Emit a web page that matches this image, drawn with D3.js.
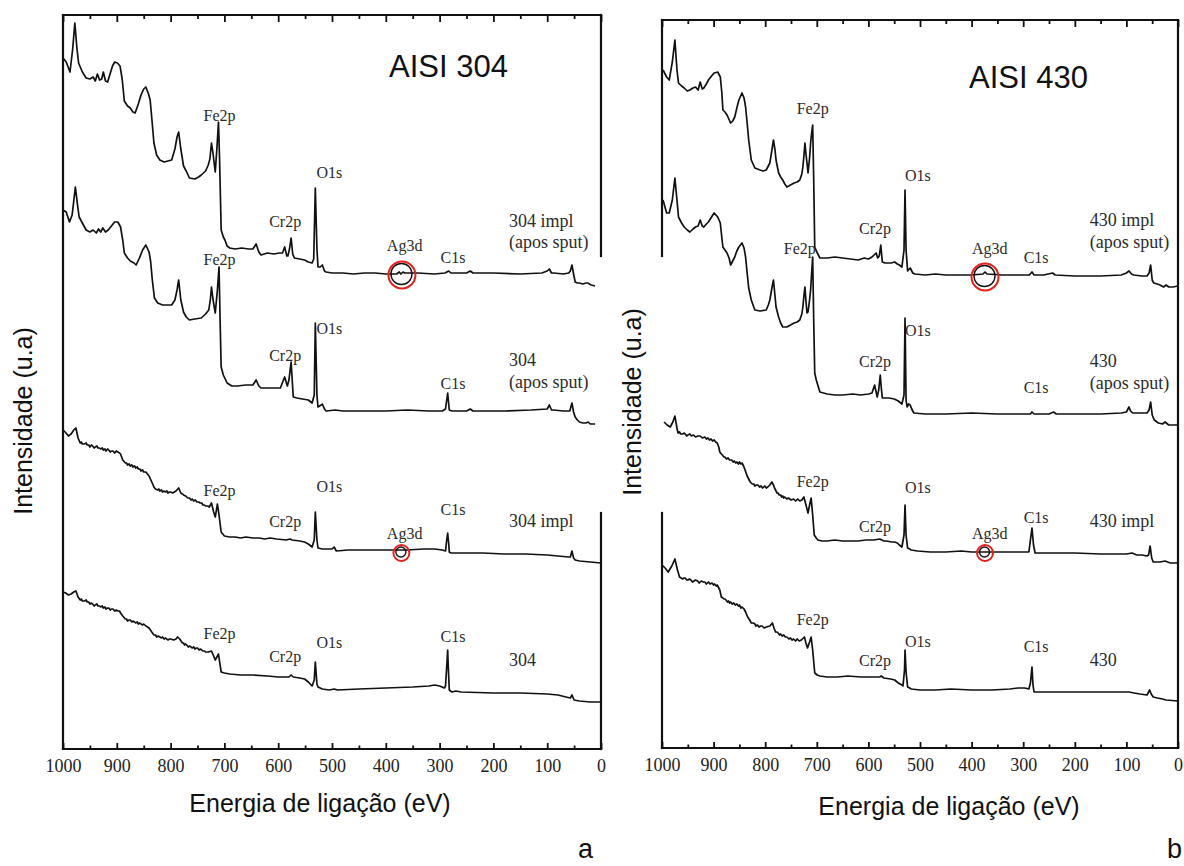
<!DOCTYPE html>
<html>
<head>
<meta charset="utf-8">
<script src="https://cdn.jsdelivr.net/npm/d3@7"></script>
<style>
  body { margin: 0; background: #fff; }
  .peak { font-family: 'Liberation Serif', serif; font-size: 16px; fill: #2b2b2b; }
  .serie { font-family: 'Liberation Serif', serif; font-size: 18px; fill: #2b2b2b; }
  .big { font-family: 'Liberation Sans', Arial, sans-serif; fill: #111; }
</style>
</head>
<body>
<script>
// energy axis ticks (eV)
const majorTicks = [1000, 900, 800, 700, 600, 500, 400, 300, 200, 100, 0];
const minorTicks = [950, 850, 750, 650, 550, 450, 350, 250, 150, 50];

// spectra, [binding energy eV, intensity a.u.] -- AISI 304
const s304ImplSput = [[1000,691],[994,687],[987,677],[982,700],[978,726],[974,700],[971,686],[964,677],[957,671],[950,670],[944,672],[940,668],[936,675],[932,669],[928,670],[925,677],[921,668],[917,667],[912,676],[908,683],[904,687],[899,686],[894,683],[890,670],[886,648],[880,643],[875,641],[870,637],[866,636],[860,645],[855,654],[850,660],[846,662],[841,655],[838,649],[834,625],[831,606],[826,594],[820,589],[812,587],[805,588],[798,589],[792,600],[788,612],[785,617],[781,600],[776,583],[771,578],[765,571],[755,570],[748,572],[743,574],[735,578],[730,584],[727,590],[724,606],[721,595],[717,577],[714,600],[711,627],[709,590],[706,519],[702,512],[699,509],[695,503],[690,501],[680,500],[668,501],[655,500],[647,500],[641,505],[636,497],[632,494],[620,496],[608,495],[598,496],[592,496],[588,502],[584,493],[582,493],[579,500],[576,511],[573,495],[570,491],[560,490],[551,489],[544,487],[537,486],[534,490],[531,561],[528,500],[526,482],[522,482],[518,484],[514,478],[511,477],[500,476],[480,476],[460,475],[440,476],[420,476],[400,475],[380,475],[375,477],[372,475],[368,477],[365,476],[340,476],[310,475],[290,476],[283,478],[279,476],[250,476],[243,478],[238,476],[200,476],[150,475],[110,476],[100,478],[96,480],[92,476],[88,476],[70,475],[60,476],[57,478],[54,484],[51,475],[48,467],[44,466],[40,466],[34,465],[28,466],[24,466],[22,465],[18,464],[11,463]];
const s304Sput = [[1000,539],[994,537],[988,527],[983,534],[977,562],[973,544],[970,532],[964,526],[957,519],[950,517],[944,519],[938,516],[934,520],[930,517],[926,521],[921,517],[916,519],[910,523],[904,527],[898,527],[893,522],[889,509],[886,496],[880,491],[875,488],[868,486],[864,484],[858,491],[852,499],[846,504],[840,497],[837,487],[834,469],[830,451],[824,446],[815,444],[805,444],[798,444],[792,449],[788,459],[785,469],[781,449],[776,437],[771,432],[765,429],[755,430],[743,431],[735,435],[729,439],[726,450],[724,462],[721,449],[717,436],[713,459],[710,482],[708,429],[706,382],[702,374],[695,366],[686,363],[676,363],[660,364],[647,364],[641,369],[636,363],[632,361],[615,361],[596,361],[588,372],[583,363],[580,369],[576,387],[572,352],[565,351],[555,350],[544,349],[537,346],[533,354],[531,426],[528,354],[526,342],[520,344],[518,345],[514,340],[511,338],[494,339],[480,338],[440,338],[400,338],[360,339],[320,338],[295,338],[289,340],[285,356],[282,339],[277,338],[250,338],[243,340],[238,338],[180,338],[130,339],[100,340],[96,344],[92,339],[88,339],[70,338],[58,338],[54,346],[51,337],[48,332],[44,329],[40,327],[34,326],[28,326],[24,327],[20,325],[11,325]];
const s304Impl = [[1000,319],[996,317],[990,313],[985,315],[980,319],[976,321],[972,311],[968,306],[966,307],[964,305],[960,305],[957,306],[955,304],[952,304],[950,302],[947,304],[945,303],[942,301],[940,302],[937,303],[935,301],[932,301],[930,300],[927,301],[925,299],[922,300],[920,298],[917,300],[915,299],[912,297],[910,298],[907,298],[904,296],[901,298],[898,297],[895,296],[893,295],[889,289],[884,286],[882,286],[880,284],[877,285],[875,283],[872,284],[870,282],[867,283],[865,281],[862,282],[860,280],[857,280],[855,278],[852,279],[850,277],[846,277],[843,275],[840,273],[835,267],[831,262],[828,260],[824,259],[822,260],[820,258],[817,259],[815,257],[812,258],[810,257],[807,258],[805,256],[802,257],[800,257],[796,256],[790,258],[785,261],[781,256],[778,255],[776,254],[772,253],[770,252],[768,251],[765,251],[762,249],[760,250],[757,248],[754,249],[751,247],[748,247],[745,246],[742,246],[740,244],[737,244],[735,243],[731,243],[728,242],[724,246],[720,237],[717,232],[713,245],[710,234],[706,217],[700,213],[690,212],[680,212],[670,211],[660,212],[647,211],[635,211],[625,210],[615,211],[603,210],[585,209],[578,210],[574,209],[560,208],[551,207],[544,205],[537,202],[533,209],[531,237],[528,209],[526,201],[518,200],[512,200],[500,200],[496,202],[492,198],[470,199],[440,199],[400,199],[372,199],[360,199],[330,200],[309,200],[295,199],[289,198],[287,208],[285,216],[283,205],[282,197],[279,196],[260,196],[220,196],[180,195],[140,195],[100,194],[80,193],[60,192],[57,192],[54,198],[51,191],[48,189],[40,188],[20,187],[0,186]];
const s304 = [[1000,157],[995,156],[990,154],[985,155],[980,157],[976,158],[972,152],[968,149],[966,150],[964,148],[960,148],[957,149],[955,147],[952,147],[950,145],[947,146],[945,145],[942,143],[940,144],[937,145],[935,143],[932,143],[930,142],[927,143],[925,141],[922,142],[920,140],[917,141],[915,141],[912,139],[910,140],[907,140],[904,138],[901,139],[898,138],[895,138],[893,136],[889,133],[884,130],[882,130],[880,128],[877,129],[875,129],[872,127],[870,128],[867,127],[865,126],[862,127],[860,125],[857,126],[855,125],[852,124],[850,125],[846,123],[843,122],[840,121],[835,117],[831,114],[828,114],[826,112],[823,113],[820,112],[817,111],[815,112],[812,110],[810,111],[807,110],[805,109],[802,110],[800,110],[794,109],[790,110],[787,112],[783,110],[778,106],[776,106],[774,104],[772,105],[770,104],[767,102],[765,103],[762,102],[760,101],[757,102],[755,100],[752,101],[750,101],[747,99],[745,100],[742,99],[740,98],[737,98],[735,97],[730,97],[724,98],[720,93],[717,89],[713,93],[711,95],[708,84],[706,77],[700,76],[690,75],[670,74],[647,74],[620,73],[600,72],[580,72],[576,74],[572,72],[560,71],[551,70],[544,67],[537,63],[533,69],[531,87],[528,65],[526,62],[518,60],[505,59],[496,60],[490,59],[450,60],[400,61],[350,62],[320,63],[309,64],[300,63],[291,61],[289,63],[286,89],[285,99],[284,84],[282,59],[277,57],[270,58],[260,57],[200,56],[150,56],[100,55],[80,54],[65,52],[57,51],[54,54],[50,49],[40,48],[20,47],[0,47]];

// AISI 430
const s430ImplSput = [[998,678],[991,671],[986,668],[980,686],[975,708],[971,678],[968,665],[962,662],[957,660],[951,657],[946,658],[940,660],[935,661],[930,658],[926,666],[922,659],[919,660],[914,664],[910,668],[904,672],[899,675],[892,676],[887,671],[884,655],[882,638],[878,636],[874,633],[867,625],[863,627],[859,631],[855,640],[851,648],[845,655],[841,650],[838,641],[835,625],[832,608],[827,588],[820,580],[810,578],[804,577],[798,578],[794,582],[791,585],[787,598],[784,608],[781,598],[779,588],[774,575],[770,571],[766,568],[762,564],[758,561],[751,563],[744,565],[738,566],[733,568],[729,574],[727,581],[725,592],[723,605],[721,594],[719,585],[717,575],[714,590],[712,605],[710,615],[708,623],[706,568],[704,501],[700,496],[694,490],[680,490],[665,491],[650,490],[635,489],[620,488],[608,490],[600,489],[593,491],[589,493],[585,495],[582,490],[579,492],[576,503],[573,486],[568,485],[556,485],[549,486],[544,484],[540,483],[535,481],[531,498],[529,558],[527,498],[524,477],[521,479],[519,480],[514,475],[510,474],[490,473],[470,474],[450,473],[430,473],[400,473],[378,474],[374,476],[370,474],[340,473],[310,473],[288,473],[283,476],[279,473],[260,473],[243,475],[238,473],[200,472],[150,472],[110,473],[100,475],[95,477],[90,474],[86,473],[70,472],[60,472],[56,475],[53,483],[50,468],[47,465],[40,464],[35,463],[28,461],[23,463],[18,461],[10,461],[0,462]];
const s430Sput = [[998,548],[991,535],[986,535],[980,548],[975,570],[971,548],[968,531],[962,525],[957,521],[951,518],[946,516],[940,519],[935,521],[930,522],[926,528],[922,522],[919,521],[914,524],[910,526],[904,531],[899,535],[892,531],[887,525],[884,510],[882,501],[878,498],[874,495],[870,490],[867,483],[863,487],[859,491],[855,497],[851,501],[845,505],[841,500],[838,491],[835,475],[832,460],[827,448],[820,438],[810,437],[798,438],[794,443],[791,448],[787,460],[784,468],[781,452],[779,441],[774,431],[770,425],[766,421],[758,421],[751,423],[744,425],[738,426],[733,428],[729,434],[727,441],[725,452],[723,461],[721,447],[719,435],[717,436],[714,448],[712,458],[710,475],[708,491],[706,428],[704,375],[701,368],[694,356],[680,354],[665,353],[650,353],[630,354],[615,353],[600,354],[593,355],[588,363],[585,356],[583,351],[580,358],[577,373],[575,360],[573,350],[560,350],[550,349],[542,347],[535,344],[531,353],[529,430],[527,348],[525,341],[522,344],[519,343],[516,339],[512,335],[490,334],[450,334],[400,335],[350,334],[300,334],[286,334],[283,336],[279,334],[250,334],[241,336],[236,334],[200,334],[150,334],[110,335],[100,336],[95,341],[92,337],[88,335],[70,335],[60,335],[56,338],[53,346],[50,333],[46,328],[38,325],[30,324],[25,326],[18,323],[0,323]];
const s430Impl = [[996,326],[990,323],[984,321],[979,326],[975,332],[971,320],[969,315],[966,316],[964,314],[960,314],[957,315],[955,314],[952,312],[950,313],[946,314],[943,312],[939,313],[935,311],[930,312],[926,312],[922,310],[917,311],[914,309],[911,310],[908,308],[905,309],[902,307],[899,308],[896,306],[893,305],[890,301],[888,296],[885,294],[883,293],[880,291],[878,291],[875,289],[872,290],[869,288],[865,288],[862,286],[860,287],[857,285],[855,286],[852,284],[850,286],[847,284],[845,285],[842,282],[839,278],[835,272],[829,266],[825,264],[822,264],[820,262],[817,263],[814,263],[811,261],[808,262],[805,260],[801,262],[798,260],[795,261],[791,263],[787,266],[784,263],[782,260],[777,255],[775,255],[773,253],[770,253],[768,251],[766,252],[764,250],[762,251],[758,249],[755,250],[750,248],[745,249],[741,247],[737,249],[733,247],[729,248],[725,251],[721,243],[717,235],[714,243],[711,250],[708,233],[705,213],[701,210],[698,208],[690,207],[680,207],[665,208],[650,207],[635,207],[620,207],[605,208],[590,208],[578,209],[570,207],[565,207],[555,206],[549,206],[544,205],[540,203],[535,201],[531,213],[529,243],[527,213],[524,200],[520,199],[517,198],[505,197],[480,196],[450,196],[420,197],[400,196],[380,196],[350,196],[320,196],[300,196],[289,196],[286,208],[283,220],[280,203],[277,195],[250,195],[200,195],[150,194],[100,194],[89,195],[80,193],[70,193],[60,192],[57,193],[54,202],[51,190],[48,186],[40,186],[35,186],[25,187],[15,185],[0,185]];
const s430 = [[1000,183],[994,180],[988,176],[981,182],[975,189],[970,178],[966,171],[963,170],[960,169],[957,170],[955,170],[952,168],[950,168],[947,169],[944,168],[941,166],[938,167],[935,168],[931,167],[928,165],[924,167],[920,166],[917,166],[914,164],[910,166],[907,164],[903,165],[900,163],[898,164],[895,162],[893,163],[890,160],[888,158],[885,151],[882,150],[880,149],[878,149],[876,148],[873,146],[871,147],[869,145],[867,146],[864,144],[861,145],[858,143],[855,144],[852,142],[850,143],[847,140],[845,141],[841,139],[838,136],[834,131],[830,128],[827,125],[823,125],[820,124],[818,122],[815,123],[812,121],[809,122],[806,122],[802,120],[798,121],[791,122],[786,125],[783,120],[780,116],[777,116],[775,115],[772,113],[770,114],[767,112],[764,113],[761,111],[758,111],[754,109],[751,110],[748,108],[745,109],[741,107],[738,109],[734,107],[730,108],[724,111],[721,105],[718,100],[714,106],[711,111],[708,98],[704,75],[699,73],[694,72],[680,71],[660,71],[640,72],[614,71],[595,71],[578,71],[575,72],[570,70],[557,69],[549,68],[542,65],[535,63],[533,62],[530,78],[529,98],[527,76],[524,61],[520,60],[517,59],[500,58],[470,58],[440,59],[400,58],[360,58],[326,59],[310,60],[297,60],[289,59],[286,65],[283,81],[281,63],[279,56],[250,56],[200,56],[150,56],[95,56],[85,55],[74,54],[60,53],[55,58],[52,54],[48,51],[40,50],[30,49],[23,48],[0,47]];

// peak annotations [text, eV, intensity]
const peaks304 = [['Fe2p',709,628],['Cr2p',587,522],['O1s',505,571],['Ag3d',365,498],['C1s',275,486],
  ['Fe2p',709,484],['Cr2p',587,388],['O1s',505,415],['C1s',275,360],
  ['Fe2p',709,253],['Cr2p',587,222],['O1s',505,257],['Ag3d',365,210],['C1s',275,234],
  ['Fe2p',709,110],['Cr2p',587,87],['O1s',505,101],['C1s',275,107]];
const names304 = [['304 impl',171,522],['(apos sput)',171,501],['304',171,383],['(apos sput)',171,361],['304 impl',171,222],['304',171,83]];
const peaks430 = [['Fe2p',708,634],['Cr2p',587,514],['O1s',504,567],['Ag3d',365,494],['C1s',275,485],
  ['Fe2p',733,494],['Cr2p',587,381],['O1s',504,412],['C1s',275,355],
  ['Fe2p',708,261],['Cr2p',587,216],['O1s',504,255],['Ag3d',365,209],['C1s',275,225],
  ['Fe2p',708,123],['Cr2p',587,82],['O1s',504,101],['C1s',275,96]];
const names430 = [['430 impl',171,522],['(apos sput)',171,500],['430',171,381],['(apos sput)',171,359],['430 impl',171,221],['430',171,82]];
// Ag3d marks [eV, intensity]
const ag304 = [[370,474],[371,196]];
const ag430 = [[374,471],[374,195]];

const W = 1184, H = 866;
const svg = d3.select('body').append('svg').attr('width', W).attr('height', H);

const panels = [
  {x0: 63, x1: 601, y0: 15, y1: 749, yMax: 734, series: [s304ImplSput, s304Sput, s304Impl, s304],
   peaks: peaks304, names: names304, ag: ag304, title: ['AISI 304', 394, 672],
   leftGap: null, rightGap: [256, 513], ylab: [23, 421], xlab: [320, 812], letter: ['a', 578]},
  {x0: 662, x1: 1178, y0: 20, y1: 748, yMax: 728, series: [s430ImplSput, s430Sput, s430Impl, s430],
   peaks: peaks430, names: names430, ag: ag430, title: ['AISI 430', 405, 660],
   leftGap: [256, 513], rightGap: null, ylab: [632, 402], xlab: [949, 815], letter: ['b', 1167]}
];
const agR = [13.5, 8];

panels.forEach(p => {
  const x = d3.scaleLinear().domain([1000, 0]).range([p.x0, p.x1]);
  const y = d3.scaleLinear().domain([0, p.yMax]).range([p.y1, p.y0]);
  const g = svg.append('g');

  // axes: ticks point inward
  const bot = g.append('g').attr('transform', `translate(0,${p.y1})`)
    .call(d3.axisBottom(x).tickValues(majorTicks).tickSize(-6).tickPadding(10).tickFormat(d3.format('d')))
    .attr('font-family', "'Liberation Serif', 'Times New Roman', serif").attr('font-size', 18);
  bot.selectAll('.tick text').attr('fill', '#222');
  const botMinor = g.append('g').attr('transform', `translate(0,${p.y1})`)
    .call(d3.axisBottom(x).tickValues(minorTicks).tickSize(-3.5).tickFormat(''));
  const top = g.append('g').attr('transform', `translate(0,${p.y0})`)
    .call(d3.axisTop(x).tickValues(majorTicks).tickSize(-7).tickFormat(''));
  const topMinor = g.append('g').attr('transform', `translate(0,${p.y0})`)
    .call(d3.axisTop(x).tickValues(minorTicks).tickSize(-4).tickFormat(''));
  [bot, botMinor, top, topMinor].forEach(a => {
    a.select('.domain').remove();
    a.selectAll('.tick line').attr('stroke', '#111').attr('stroke-width', 1.8);
  });

  // frame (the side borders are broken where the pasted spectra covered them)
  const seg = gap => gap ? [[p.y0, gap[0]], [gap[1], p.y1]] : [[p.y0, p.y1]];
  const lines = [[p.x0, p.y0, p.x1, p.y0], [p.x0, p.y1, p.x1, p.y1]];
  seg(p.leftGap).forEach(s => lines.push([p.x0, s[0], p.x0, s[1]]));
  seg(p.rightGap).forEach(s => lines.push([p.x1, s[0], p.x1, s[1]]));
  g.selectAll('line.frame').data(lines).enter().append('line')
    .attr('x1', d => d[0]).attr('y1', d => d[1]).attr('x2', d => d[2]).attr('y2', d => d[3])
    .attr('stroke', '#111').attr('stroke-width', 2.2).attr('stroke-linecap', 'square');

  const line = d3.line().x(d => x(d[0])).y(d => y(d[1]));
  g.selectAll('path.spec').data(p.series).enter().append('path')
    .attr('d', line).attr('fill', 'none').attr('stroke', '#111')
    .attr('stroke-width', 1.7).attr('stroke-linejoin', 'round');

  g.selectAll('text.peak').data(p.peaks).enter().append('text').attr('class', 'peak')
    .attr('x', d => x(d[1])).attr('y', d => y(d[2])).attr('text-anchor', 'middle').text(d => d[0]);
  g.selectAll('text.serie').data(p.names).enter().append('text').attr('class', 'serie')
    .attr('x', d => x(d[1])).attr('y', d => y(d[2])).text(d => d[0]);

  // Ag3d circles
  p.ag.forEach((d, i) => {
    g.append('circle').attr('cx', x(d[0]) - 0.5).attr('cy', y(d[1]) - 1).attr('r', agR[i] - 3)
      .attr('fill', 'none').attr('stroke', '#111').attr('stroke-width', 1.4);
    g.append('circle').attr('cx', x(d[0])).attr('cy', y(d[1])).attr('r', agR[i])
      .attr('fill', 'none').attr('stroke', '#e3211c').attr('stroke-width', 2);
  });

  g.append('text').attr('class', 'big').attr('x', x(p.title[1])).attr('y', y(p.title[2]))
    .style('font-size', '31px').text(p.title[0]);

  g.append('text').attr('class', 'big').attr('text-anchor', 'middle')
    .attr('transform', `translate(${p.ylab[0]},${p.ylab[1]}) rotate(-90)`).attr('dy', '0.35em')
    .style('font-size', '25px').text('Intensidade (u.a)');
  g.append('text').attr('class', 'big').attr('text-anchor', 'middle')
    .attr('x', p.xlab[0]).attr('y', p.xlab[1]).style('font-size', '25px').text('Energia de ligação (eV)');
  g.append('text').attr('class', 'big').attr('x', p.letter[1]).attr('y', 858)
    .style('font-size', '27px').text(p.letter[0]);
});
</script>
</body>
</html>
